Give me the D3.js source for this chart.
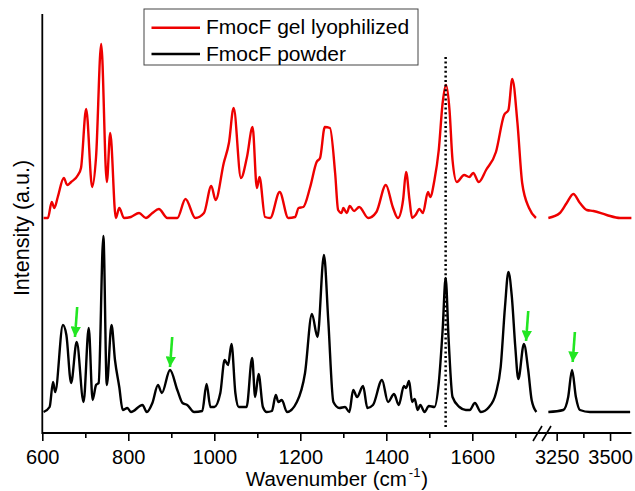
<!DOCTYPE html>
<html>
<head>
<meta charset="utf-8">
<script src="https://cdn.jsdelivr.net/npm/d3@7"></script>
<style>
body { margin: 0; background: #fff; }
svg text { font-family: Arial, "Liberation Sans", sans-serif; fill: #000; }
</style>
</head>
<body>
<div id="chart"></div>
<script>
// wavenumber, intensity (a.u., relative to each trace's own baseline)
var gelLow = [[603,0],[613,0],[622,16],[628,10],[636,21],[650,40],[658,33],[667,36],[683,43],[690,50],
  [702,109],[716,31],[725,61],[737,174],[750,36],[758,85],[771,0],[779,10],[790,0],[806,1],[825,5],
  [841,0],[856,5],[871,9],[891,0],[914,0],[933,19],[956,0],[976,5],[993,32],[1003,18],[1022,55],
  [1034,75],[1045,110],[1062,40],[1076,61],[1089,91],[1099,30],[1105,41],[1118,1],[1130,0],[1152,26],
  [1172,0],[1188,1],[1196,10],[1207,11],[1223,31],[1238,56],[1246,60],[1257,91],[1269,90],[1281,45],
  [1288,8],[1296,5],[1300,10],[1308,5],[1315,12],[1325,7],[1337,11],[1358,0],[1377,6],[1399,33],
  [1415,11],[1427,0],[1439,18],[1446,46],[1454,18],[1460,0],[1468,3],[1477,9],[1485,5],[1497,26],
  [1502,21],[1512,38],[1522,68],[1531,115],[1539,133],[1547,108],[1554,58],[1564,36],[1581,43],
  [1593,41],[1602,45],[1615,36],[1632,48],[1655,66],[1674,103],[1684,108],[1693,139],[1705,95],
  [1716,35],[1732,10],[1748,0]];
var gelHigh = [[3211,0],[3265,5],[3297,15],[3328,24],[3359,15],[3391,8],[3422,7],[3484,3],[3547,0],[3600,0]];

var powderLow = [[603,0],[617,5],[625,30],[630,20],[648,87],[656,77],[667,29],[680,70],[696,10],[708,84],
  [717,12],[725,27],[731,29],[742,176],[750,27],[761,87],[769,52],[779,25],[787,2],[798,4],[806,0],
  [833,7],[843,0],[856,9],[869,27],[878,19],[897,42],[914,22],[926,9],[937,7],[953,0],[972,1],[982,28],
  [991,5],[1000,5],[1014,19],[1024,52],[1032,47],[1040,68],[1049,19],[1057,5],[1075,5],[1088,54],
  [1095,15],[1103,38],[1113,5],[1122,0],[1134,1],[1143,17],[1149,10],[1157,12],[1169,0],[1192,10],
  [1211,39],[1227,98],[1240,75],[1255,157],[1265,92],[1277,10],[1291,4],[1304,5],[1314,0],[1323,22],
  [1332,15],[1346,26],[1356,4],[1369,7],[1390,32],[1404,10],[1418,18],[1429,7],[1441,26],[1446,24],
  [1453,31],[1460,10],[1466,13],[1473,2],[1479,7],[1489,0],[1499,6],[1512,5],[1522,29],[1531,82],
  [1538,134],[1545,72],[1554,15],[1570,5],[1585,2],[1594,2],[1606,9],[1620,0],[1639,5],[1655,19],
  [1666,45],[1676,105],[1684,140],[1692,115],[1700,65],[1707,33],[1720,68],[1730,42],[1738,12],[1749,0]];
var powderHigh = [[3211,0],[3281,2],[3304,15],[3322,42],[3340,15],[3359,2],[3406,0],[3594,0]];

var gelOffset = 215, powderOffset = 21;

var seriesNames = ["FmocF gel lyophilized", "FmocF powder"];
var seriesColors = ["#ee0000", "#000000"];

var majorLow = [600, 800, 1000, 1200, 1400, 1600];
var minorLow = [700, 900, 1100, 1300, 1500, 1700];
var majorHigh = [3250, 3500];
var minorHigh = [3375];

var markerWave = 1538;
var markerRange = [5, 376];

// green arrows: segment, wavenumber of tip, height of tip
var arrows = [["low", 676, 96], ["low", 897, 66], ["low", 1725, 92], ["high", 3325, 71]];

var width = 635, height = 491;

var svg = d3.select("#chart").append("svg")
    .attr("width", width)
    .attr("height", height);

var xLow = d3.scaleLinear().domain([600, 1750]).range([42.3, 536.8]);
var xHigh = d3.scaleLinear().domain([3200, 3600]).range([546, 631.4]);
var y = d3.scaleLinear().domain([0, 419]).range([433, 14]);

var makeLine = function(xs, offset){
    return d3.line()
        .x(function(d){ return xs(d[0]); })
        .y(function(d){ return y(d[1] + offset); })
        .curve(d3.curveMonotoneX);
};

var traces = [
    [gelLow, xLow, gelOffset, seriesColors[0]],
    [gelHigh, xHigh, gelOffset, seriesColors[0]],
    [powderLow, xLow, powderOffset, seriesColors[1]],
    [powderHigh, xHigh, powderOffset, seriesColors[1]]
];

traces.forEach(function(t){
    svg.append("path")
        .datum(t[0])
        .attr("d", makeLine(t[1], t[2]))
        .attr("fill", "none")
        .attr("stroke", t[3])
        .attr("stroke-width", 2.4)
        .attr("stroke-linejoin", "round");
});

// dotted marker
svg.append("line")
    .attr("x1", xLow(markerWave)).attr("x2", xLow(markerWave))
    .attr("y1", y(markerRange[1])).attr("y2", y(markerRange[0]))
    .attr("stroke", "#000")
    .attr("stroke-width", 2.5)
    .attr("stroke-dasharray", "2,2.6");

// arrows
svg.append("defs").append("marker")
    .attr("id", "head")
    .attr("viewBox", "0 0 10 10")
    .attr("refX", 10).attr("refY", 5)
    .attr("markerWidth", 4).attr("markerHeight", 4)
    .attr("markerUnits", "strokeWidth")
    .attr("orient", "auto")
    .append("path")
    .attr("d", "M0,0 L10,5 L0,10 z")
    .attr("fill", "#22e622");

arrows.forEach(function(a){
    var xs = a[0] == "low" ? xLow : xHigh;
    var tx = xs(a[1]), ty = y(a[2]);
    svg.append("line")
        .attr("x1", tx + 2.2).attr("y1", ty - 30)
        .attr("x2", tx).attr("y2", ty)
        .attr("stroke", "#22e622")
        .attr("stroke-width", 2.6)
        .attr("marker-end", "url(#head)");
});

// axes
var drawTicks = function(xs, values, size, labels){
    var ax = d3.axisBottom(xs).tickValues(values).tickSize(size).tickPadding(9)
        .tickFormat(labels ? d3.format("d") : "");
    var g = svg.append("g")
        .attr("transform", "translate(0," + y(0) + ")")
        .call(ax);
    g.select(".domain").remove();
    g.attr("font-size", 20).attr("font-family", "Arial, 'Liberation Sans', sans-serif");
    g.selectAll("line").attr("stroke-width", 1.6);
};
drawTicks(xLow, majorLow, 8, true);
drawTicks(xLow, minorLow, 5, false);
drawTicks(xHigh, majorHigh, 8, true);
drawTicks(xHigh, minorHigh, 5, false);

svg.append("line")
    .attr("x1", xLow(600)).attr("x2", xHigh(3600))
    .attr("y1", y(0)).attr("y2", y(0))
    .attr("stroke", "#000").attr("stroke-width", 1.8);
svg.append("line")
    .attr("x1", xLow(600)).attr("x2", xLow(600))
    .attr("y1", y(0) + 0.9).attr("y2", y(419))
    .attr("stroke", "#000").attr("stroke-width", 1.8);

// break marks
[0, 9].forEach(function(dx){
    svg.append("line")
        .attr("x1", 533 + dx).attr("y1", y(0) + 8)
        .attr("x2", 542 + dx).attr("y2", y(0) - 7)
        .attr("stroke", "#000").attr("stroke-width", 1.6);
});

// axis titles
var xt = svg.append("text")
    .attr("x", 337).attr("y", 486)
    .attr("text-anchor", "middle")
    .attr("font-size", 20.5);
xt.append("tspan").text("Wavenumber (cm");
xt.append("tspan").attr("font-size", 13).attr("dx", 2).attr("dy", -9).text("-1");
xt.append("tspan").attr("dx", 1).attr("dy", 9).text(")");

svg.append("text")
    .attr("transform", "translate(29,228) rotate(-90)")
    .attr("text-anchor", "middle")
    .attr("font-size", 21.5)
    .text("Intensity (a.u.)");

// legend
var legend = svg.append("g");
legend.append("rect")
    .attr("x", 144).attr("y", 9)
    .attr("width", 274).attr("height", 56)
    .attr("fill", "#fff")
    .attr("stroke", "#444").attr("stroke-width", 1);
seriesNames.forEach(function(name, i){
    var ly = 27.7 + i * 26.3;
    legend.append("line")
        .attr("x1", 151.5).attr("x2", 200)
        .attr("y1", ly).attr("y2", ly)
        .attr("stroke", seriesColors[i]).attr("stroke-width", 2.4);
    legend.append("text")
        .attr("x", 206).attr("y", ly + 6.5)
        .attr("font-size", 21)
        .text(name);
});
</script>
</body>
</html>
